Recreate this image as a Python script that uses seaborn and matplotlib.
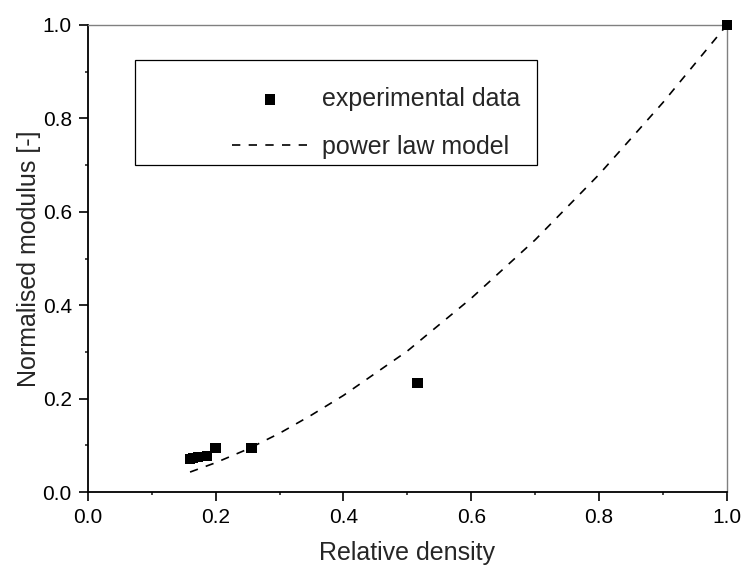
import numpy as np
import pandas as pd
import matplotlib
matplotlib.use("Agg")
import matplotlib.pyplot as plt
from matplotlib.patches import Rectangle
import seaborn as sns

# experimental points
rel_density = [0.160, 0.165, 0.172, 0.186, 0.200, 0.256, 0.516, 1.000]
norm_modulus = [0.071, 0.073, 0.075, 0.077, 0.094, 0.094, 0.234, 1.000]

# power law curve
model_x = [0.16, 0.20, 0.25, 0.30, 0.35, 0.40, 0.50, 0.60, 0.70, 0.80, 0.90, 1.00]
model_y = [0.043, 0.063, 0.092, 0.126, 0.165, 0.207, 0.302, 0.415, 0.540, 0.680, 0.834, 1.000]

sns.set_style("ticks")
plt.rcParams['font.family'] = ['Liberation Sans', 'DejaVu Sans']

fig = plt.figure(figsize=(7.44, 5.67), dpi=100)
ax = fig.add_axes([0.118, 0.132, 0.859, 0.824])

exp_df = pd.DataFrame({'x': rel_density, 'y': norm_modulus})
mod_df = pd.DataFrame({'x': model_x, 'y': model_y})

sns.lineplot(data=mod_df, x='x', y='y', ax=ax, color='black', linewidth=1.2,
             linestyle=(0, (5, 5)), label='power law model')
sns.scatterplot(data=exp_df, x='x', y='y', ax=ax, color='black', marker='s',
                s=55, edgecolor='none', label='experimental data', clip_on=False, zorder=5)

ax.set_xlim(0, 1)
ax.set_ylim(0, 1)
ax.set_xticks(np.arange(0, 1.01, 0.2))
ax.set_yticks(np.arange(0, 1.01, 0.2))
ax.set_xticks(np.arange(0.1, 1.0, 0.2), minor=True)
ax.set_yticks(np.arange(0.1, 1.0, 0.2), minor=True)
ax.tick_params(which='major', direction='out', length=6.5, width=1.2, labelsize=15,
               colors='black', pad=5)
ax.tick_params(which='minor', direction='out', length=2.5, width=1.2)
ax.set_xticklabels([f"{v:.1f}" for v in np.arange(0, 1.01, 0.2)])
ax.set_yticklabels([f"{v:.1f}" for v in np.arange(0, 1.01, 0.2)])

for side in ['left', 'bottom']:
    ax.spines[side].set_color('black')
    ax.spines[side].set_linewidth(1.3)
for side in ['top', 'right']:
    ax.spines[side].set_visible(True)
    ax.spines[side].set_color('#808080')
    ax.spines[side].set_linewidth(1.0)

ax.set_xlabel('Relative density', fontsize=18, labelpad=10)
ax.set_ylabel('Normalised modulus [-]', fontsize=18, labelpad=1)

# legend box
ax.add_patch(Rectangle((0.074, 0.700), 0.629, 0.225, transform=ax.transAxes,
                       facecolor='white', edgecolor='black', linewidth=0.9, zorder=3))
handles, labels = ax.get_legend_handles_labels()
order = [1, 0]
leg = ax.legend([handles[i] for i in order], [labels[i] for i in order],
                loc='center left', bbox_to_anchor=(0.19, 0.790), frameon=False,
                fontsize=18, handlelength=3.05, handletextpad=0.56, labelspacing=0.95)
leg.set_zorder(4)

fig.savefig('out.png', dpi=100)
